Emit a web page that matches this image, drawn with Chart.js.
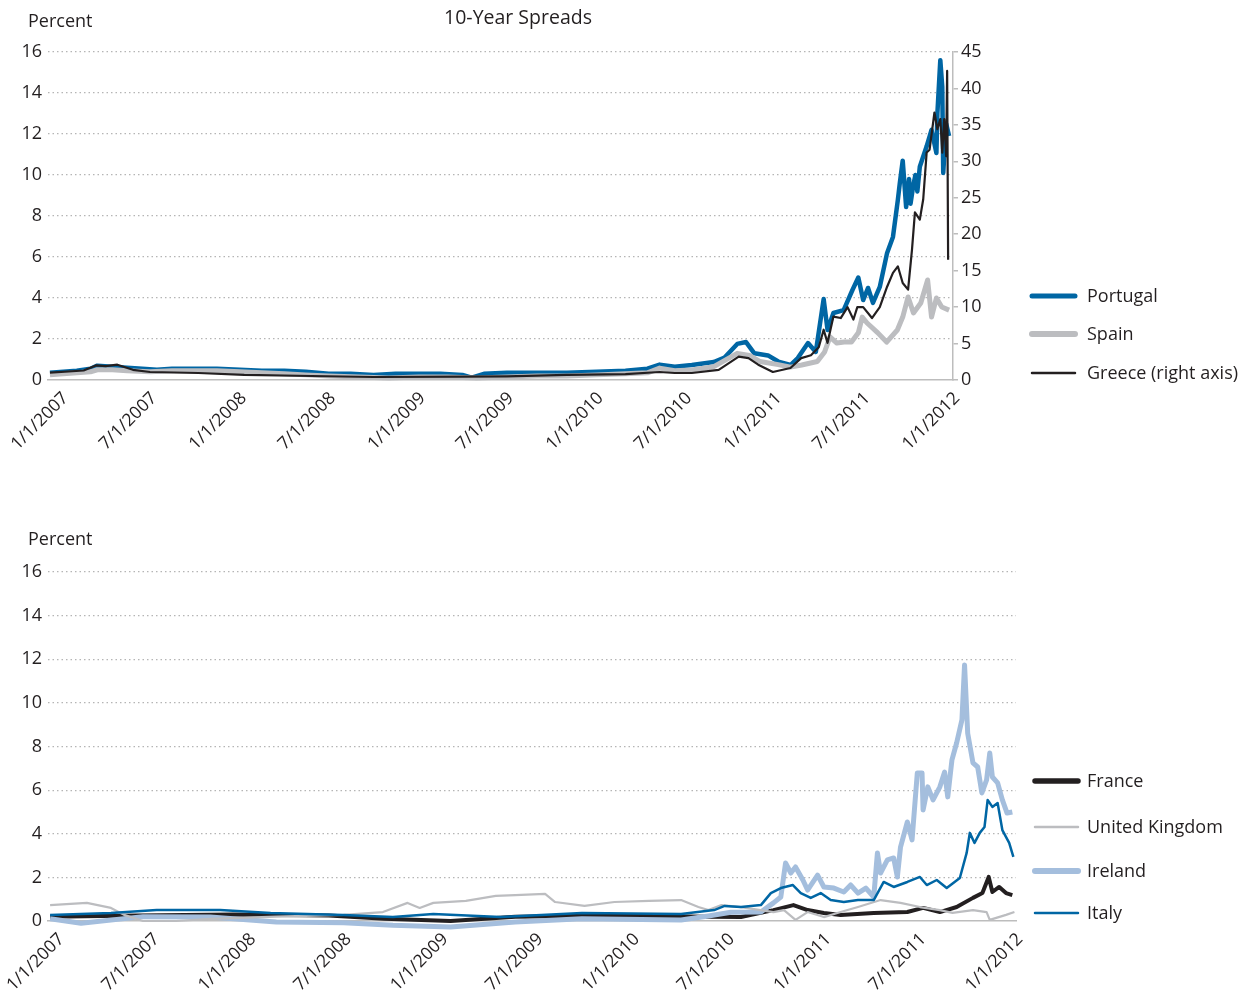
<!DOCTYPE html>
<html>
<head>
<meta charset="utf-8">
<script src="https://cdn.jsdelivr.net/npm/chart.js@4"></script>
<style>
  body { margin: 0; background: #fff; }
  .box { position: absolute; left: 0; width: 1243px; }
  #top { top: 0; height: 470px; }
  #bottom { top: 500px; height: 496px; }
</style>
</head>
<body>
<div class="box" id="top"><canvas id="chart1"></canvas></div>
<div class="box" id="bottom"><canvas id="chart2"></canvas></div>
<script>
// x axis ticks
const tickDates = ['2007-01-01','2007-07-01','2008-01-01','2008-07-01','2009-01-01','2009-07-01',
                   '2010-01-01','2010-07-01','2011-01-01','2011-07-01','2012-01-01'];
const tickLabels = ['1/1/2007','7/1/2007','1/1/2008','7/1/2008','1/1/2009','7/1/2009',
                    '1/1/2010','7/1/2010','1/1/2011','7/1/2011','1/1/2012'];

// top panel
const portugalDates = ['2006-12-08','2007-02-01','2007-03-01','2007-03-15','2007-04-15','2007-05-15','2007-06-15',
  '2007-07-15','2007-08-15','2007-10-01','2007-11-15','2008-01-01','2008-02-15','2008-04-01','2008-05-15',
  '2008-07-01','2008-08-15','2008-10-01','2008-11-15','2009-01-01','2009-02-15','2009-04-01','2009-04-20',
  '2009-05-15','2009-07-01','2009-09-01','2009-11-01','2010-01-01','2010-03-01','2010-04-15','2010-05-10',
  '2010-06-10','2010-07-15','2010-08-29','2010-09-20','2010-10-16','2010-11-03','2010-11-20','2010-12-18',
  '2011-01-08','2011-02-02','2011-02-17','2011-03-10','2011-03-26','2011-04-11','2011-04-19','2011-05-01',
  '2011-05-22','2011-06-09','2011-06-21','2011-07-01','2011-07-11','2011-07-21','2011-08-04','2011-08-19',
  '2011-08-31','2011-09-10','2011-09-14','2011-09-20','2011-09-27','2011-10-03','2011-10-06','2011-10-11',
  '2011-10-16','2011-10-20','2011-10-25','2011-11-08','2011-11-18',
  '2011-11-28','2011-11-30','2011-12-06','2011-12-10','2011-12-12','2011-12-18','2011-12-24'];
const portugalValues = [0.35,0.45,0.55,0.7,0.65,0.6,0.55,
  0.5,0.55,0.55,0.55,0.5,0.45,0.45,0.4,
  0.3,0.3,0.25,0.3,0.3,0.3,0.25,0.12,
  0.3,0.35,0.35,0.35,0.4,0.45,0.55,0.75,
  0.65,0.73,0.88,1.1,1.76,1.85,1.3,1.2,
  0.9,0.73,1.07,1.8,1.37,3.95,2.44,3.27,
  3.41,4.39,5.0,3.9,4.49,3.76,4.54,6.2,
  6.98,8.78,9.6,10.7,8.44,9.8,8.6,9.4,
  10.0,9.2,10.4,11.4,12.2,
  11.07,13.0,15.6,14.3,10.1,12.5,11.9];

const spainDates = ['2006-12-08','2007-02-01','2007-03-01','2007-03-15','2007-04-15','2007-05-15','2007-07-01',
  '2007-08-15','2007-10-01','2007-11-15','2008-01-01','2008-02-15','2008-04-01','2008-05-15','2008-07-01',
  '2008-09-01','2008-11-01','2009-01-01','2009-03-01','2009-05-01','2009-07-01','2009-09-01','2009-11-01',
  '2010-01-01','2010-03-01','2010-04-15','2010-05-10','2010-06-10','2010-07-15','2010-08-29','2010-10-16',
  '2010-11-10','2010-12-02','2011-01-08','2011-02-02','2011-02-25','2011-03-29','2011-04-13','2011-04-24',
  '2011-05-08','2011-05-23','2011-06-07','2011-06-21','2011-06-29','2011-07-09','2011-07-31','2011-08-18',
  '2011-09-09','2011-09-20','2011-10-01','2011-10-12','2011-10-27','2011-11-10','2011-11-18','2011-11-28',
  '2011-12-09','2011-12-24'];
const spainValues = [0.25,0.35,0.4,0.5,0.5,0.45,0.4,
  0.45,0.45,0.45,0.4,0.35,0.3,0.25,0.2,
  0.15,0.1,0.15,0.15,0.1,0.15,0.2,0.2,
  0.25,0.3,0.35,0.58,0.45,0.49,0.65,1.3,
  1.2,0.9,0.75,0.63,0.73,0.9,1.37,2.1,
  1.8,1.85,1.85,2.3,3.07,2.78,2.3,1.85,
  2.44,3.07,4.05,3.27,3.76,4.88,3.07,4.0,
  3.56,3.41];

const greeceDates = ['2006-12-08','2007-02-15','2007-03-12','2007-04-01','2007-04-25','2007-05-27','2007-07-01',
  '2007-10-08','2008-01-10','2008-05-27','2008-10-01','2009-04-01','2009-07-01','2009-11-01','2010-03-01',
  '2010-05-10','2010-06-10','2010-07-15','2010-09-08','2010-10-19','2010-11-08','2010-11-28','2010-12-28',
  '2011-02-02','2011-02-24','2011-03-16','2011-04-01','2011-04-11','2011-04-19','2011-05-01','2011-05-16',
  '2011-05-30','2011-06-11','2011-06-19','2011-07-01','2011-07-19','2011-08-04','2011-08-19','2011-08-31',
  '2011-09-10','2011-09-20','2011-10-01','2011-10-09','2011-10-15','2011-10-25','2011-11-01','2011-11-08',
  '2011-11-14','2011-11-24','2011-11-30','2011-12-06','2011-12-10','2011-12-14','2011-12-18','2011-12-20',
  '2011-12-22'];
const greeceValues = [1.0,1.3,2.0,1.9,2.1,1.4,1.1,
  0.96,0.69,0.55,0.41,0.45,0.5,0.69,0.8,
  1.1,0.96,0.96,1.4,3.2,3.0,2.1,1.1,
  1.65,3.0,3.4,4.5,6.9,5.1,8.7,8.5,
  10.0,8.3,10.0,10.0,8.5,10.0,12.8,14.7,
  15.6,13.3,12.4,17.9,23.0,22.0,24.8,31.2,
  31.6,36.7,34.4,35.8,31.2,35.8,30.7,42.4,
  16.5];

// bottom panel
const franceDates = ['2006-12-18','2007-06-01','2007-12-01','2008-06-01','2008-09-15','2009-01-19','2009-05-22',
  '2009-11-27','2010-05-25','2010-07-26','2010-09-26','2010-11-03','2010-11-30','2010-12-31','2011-02-01',
  '2011-04-05','2011-06-08','2011-07-08','2011-08-09','2011-09-10','2011-10-11','2011-10-29','2011-11-10',
  '2011-11-17','2011-11-30','2011-12-13','2011-12-25'];
const franceValues = [0.2,0.25,0.3,0.25,0.1,0.0,0.2,
  0.25,0.2,0.18,0.5,0.73,0.5,0.37,0.28,
  0.37,0.41,0.6,0.41,0.64,1.06,1.28,2.02,
  1.33,1.56,1.28,1.19];

const ukDates = ['2006-12-18','2007-02-26','2007-04-13','2007-05-08','2007-06-13','2007-08-15','2007-10-19',
  '2008-02-22','2008-06-29','2008-09-12','2008-10-29','2008-11-21','2008-12-17','2009-02-17','2009-04-15',
  '2009-05-22','2009-07-18','2009-08-06','2009-10-01','2009-11-27','2010-02-01','2010-04-03','2010-05-06',
  '2010-05-25','2010-06-19','2010-07-26','2010-09-26','2010-10-16','2010-11-07','2010-11-30','2010-12-31',
  '2011-02-01','2011-03-06','2011-04-18','2011-05-26','2011-07-02','2011-08-09','2011-09-02','2011-10-11',
  '2011-11-06','2011-11-12','2011-12-13','2011-12-29'];
const ukValues = [0.73,0.83,0.6,0.28,0.0,0.0,0.1,
  0.2,0.28,0.41,0.83,0.6,0.83,0.92,1.15,
  1.19,1.24,0.87,0.69,0.87,0.92,0.96,0.64,
  0.5,0.73,0.64,0.41,0.5,0.05,0.41,0.18,
  0.41,0.64,0.96,0.83,0.64,0.5,0.37,0.5,
  0.41,0.05,0.28,0.41];

const irelandDates = ['2006-12-18','2007-02-15','2007-06-13','2007-10-19','2008-02-22','2008-06-29','2008-10-01',
  '2009-01-19','2009-05-22','2009-09-26','2010-04-03','2010-05-25','2010-07-07','2010-09-02','2010-09-26',
  '2010-10-10','2010-10-19','2010-10-29','2010-11-07','2010-11-21','2010-11-30','2010-12-19','2010-12-31',
  '2011-01-19','2011-02-07','2011-02-20','2011-03-06','2011-03-21','2011-04-05','2011-04-12','2011-04-18',
  '2011-05-01','2011-05-13','2011-05-20','2011-05-26','2011-06-08','2011-06-17','2011-06-27','2011-07-06',
  '2011-07-08','2011-07-17','2011-07-27','2011-08-09','2011-08-18','2011-08-24','2011-09-01','2011-09-10',
  '2011-09-20','2011-09-25','2011-10-01','2011-10-11','2011-10-20','2011-10-28','2011-11-06','2011-11-12',
  '2011-11-17','2011-11-27','2011-12-06','2011-12-15','2011-12-25'];
const irelandValues = [0.1,-0.1,0.2,0.18,-0.05,-0.08,-0.2,
  -0.28,-0.05,0.1,0.05,0.23,0.4,0.41,0.83,
  1.1,2.66,2.2,2.48,1.88,1.42,2.1,1.56,
  1.51,1.33,1.65,1.28,1.51,1.1,3.12,2.2,
  2.8,2.89,2.02,3.39,4.54,3.72,6.79,6.79,
  5.09,6.15,5.55,6.15,6.83,5.69,7.39,8.17,
  9.22,11.74,8.6,7.25,7.06,5.87,6.47,7.7,
  6.6,6.33,5.55,4.95,5.0];

const italyDates = ['2006-12-18','2007-04-13','2007-07-09','2007-11-07','2008-02-11','2008-06-29','2008-10-01',
  '2008-12-17','2009-04-24','2009-09-26','2010-04-03','2010-06-05','2010-06-25','2010-07-26','2010-09-02',
  '2010-09-21','2010-10-10','2010-11-02','2010-11-17','2010-12-06','2010-12-25','2011-01-13','2011-02-07',
  '2011-03-06','2011-04-05','2011-04-24','2011-05-13','2011-06-08','2011-07-02','2011-07-15','2011-08-03',
  '2011-08-22','2011-09-16','2011-09-29','2011-10-05','2011-10-14','2011-10-24','2011-11-02','2011-11-08',
  '2011-11-17','2011-11-27','2011-12-06','2011-12-19','2011-12-27'];
const italyValues = [0.28,0.37,0.5,0.5,0.37,0.28,0.18,
  0.32,0.18,0.37,0.32,0.5,0.69,0.64,0.73,
  1.28,1.51,1.65,1.28,1.06,1.28,0.96,0.87,
  0.96,0.96,1.79,1.56,1.79,2.02,1.65,1.88,
  1.51,1.97,3.12,4.04,3.58,4.04,4.31,5.55,
  5.23,5.41,4.17,3.58,2.94];

const BLUE = '#0066a4', GREY = '#bcbdc0', BLACK = '#231f20', LIGHT = '#a4bedd';
const FONT = "'Open Sans', 'Noto Sans', sans-serif";

function pts(dates, values) {
    return dates.map((d, i) => ({x: Date.parse(d), y: values[i]}));
}

// labels "Percent", title and legend drawn by hand
const decor = {
    id: 'decor',
    afterDraw(chart, args, opts) {
        const ctx = chart.ctx;
        ctx.save();
        ctx.fillStyle = BLACK;
        ctx.font = '18px ' + FONT;
        ctx.textBaseline = 'middle';
        ctx.textAlign = 'left';
        ctx.fillText('Percent', 28, opts.percentY);
        if (opts.title) {
            ctx.font = '19.5px ' + FONT;
            ctx.textAlign = 'center';
            ctx.fillText(opts.title, 518, 18);
            ctx.font = '18px ' + FONT;
        }
        ctx.textAlign = 'left';
        chart.data.datasets.forEach((ds, i) => {
            const y = opts.legendY[i];
            ctx.strokeStyle = ds.borderColor;
            ctx.lineWidth = ds.legendWidth;
            ctx.lineCap = 'round';
            ctx.beginPath();
            ctx.moveTo(opts.legendX, y);
            ctx.lineTo(opts.legendX + 43, y);
            ctx.stroke();
            ctx.fillText(ds.label, 1087, y + 1);
        });
        ctx.restore();
    }
};

function xScale(height, minDate) {
    return {
        type: 'linear',
        min: Date.parse(minDate),
        max: Date.parse(tickDates[tickDates.length - 1]),
        afterBuildTicks: s => { s.ticks = tickDates.map(d => ({value: Date.parse(d)})); },
        afterFit: s => { s.height = height; },
        grid: {display: false},
        border: {display: true, color: '#bdbdbd', width: 1.5},
        ticks: {
            autoSkip: false, maxRotation: 45, minRotation: 45, padding: 0, labelOffset: 4,
            color: BLACK, font: {family: FONT, size: 17.5},
            callback: v => tickLabels[tickDates.findIndex(d => Date.parse(d) === v)]
        }
    };
}

function yScale(width) {
    return {
        min: 0, max: 16,
        afterFit: s => { s.width = width; },
        border: {display: false, dash: [1.5, 3]},
        grid: {
            drawTicks: false,
            color: c => c.tick.value === 0 ? 'rgba(0,0,0,0)' : '#b5b5b5',
            lineWidth: 1.2
        },
        ticks: {stepSize: 2, padding: 6, color: BLACK, font: {family: FONT, size: 18}}
    };
}

function line(label, dates, values, color, width, order, legendWidth, yAxisID) {
    return {
        label: label, data: pts(dates, values), borderColor: color, borderWidth: width,
        pointRadius: 0, tension: 0, fill: false, order: order, clip: false,
        legendWidth: legendWidth, yAxisID: yAxisID || 'y', borderJoinStyle: 'round'
    };
}

const common = {
    responsive: true,
    maintainAspectRatio: false,
    animation: false,
    events: [],
    plugins: {legend: {display: false}, tooltip: {enabled: false}}
};

new Chart('chart1', {
    type: 'line',
    data: {
        datasets: [
            line('Portugal', portugalDates, portugalValues, BLUE, 4.5, 2, 5),
            line('Spain', spainDates, spainValues, GREY, 5, 1, 6),
            line('Greece (right axis)', greeceDates, greeceValues, BLACK, 2.2, 0, 2.5, 'y2')
        ]
    },
    options: Object.assign({}, common, {
        layout: {padding: {top: 52, right: 250, left: 0, bottom: 0}},
        plugins: Object.assign({}, common.plugins, {
            decor: {percentY: 22, title: '10-Year Spreads', legendX: 1032, legendY: [296, 334, 373]}
        }),
        scales: {
            x: xScale(90, '2006-12-04'),
            y: yScale(48),
            y2: {
                position: 'right', min: 0, max: 45,
                afterFit: s => { s.width = 40; },
                border: {display: true, color: '#bdbdbd', width: 1.5},
                grid: {drawOnChartArea: false, drawTicks: true, tickLength: 5, color: '#bdbdbd', lineWidth: 1.5},
                ticks: {stepSize: 5, padding: 3, color: BLACK, font: {family: FONT, size: 18}}
            }
        }
    }),
    plugins: [decor]
});

new Chart('chart2', {
    type: 'line',
    data: {
        datasets: [
            line('France', franceDates, franceValues, BLACK, 4, 3, 5.5),
            line('United Kingdom', ukDates, ukValues, GREY, 2.2, 1, 2.5),
            line('Ireland', irelandDates, irelandValues, LIGHT, 5, 2, 6),
            line('Italy', italyDates, italyValues, BLUE, 2.5, 0, 2.5)
        ]
    },
    options: Object.assign({}, common, {
        layout: {padding: {top: 72, right: 227, left: 0, bottom: 0}},
        plugins: Object.assign({}, common.plugins, {
            decor: {percentY: 40, legendX: 1035, legendY: [281, 327, 371, 413]}
        }),
        scales: {
            x: xScale(75, '2006-12-14'),
            y: yScale(48)
        }
    }),
    plugins: [decor]
});
</script>
</body>
</html>
